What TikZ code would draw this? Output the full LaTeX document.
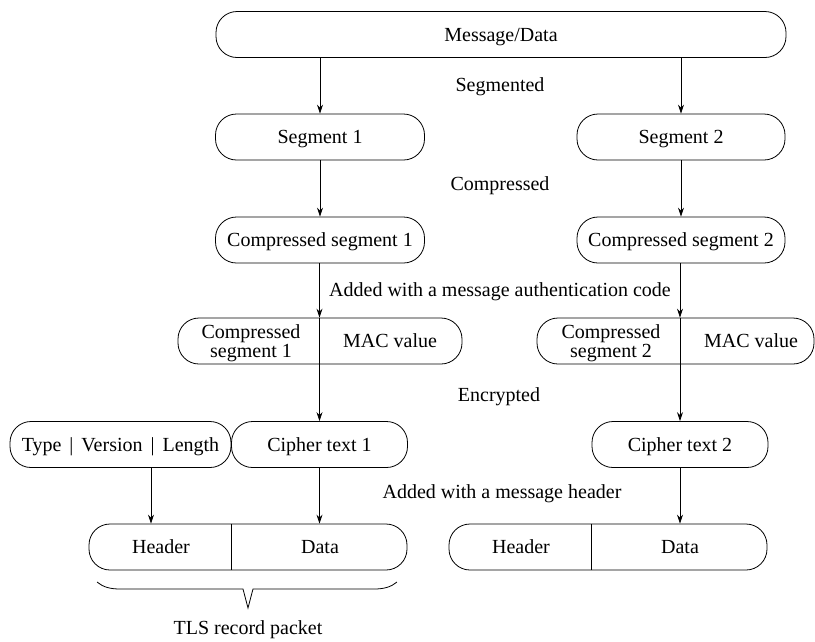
\documentclass[tikz,border=0pt]{standalone}
\usepackage{fontspec}
\setmainfont{Liberation Serif}
\usetikzlibrary{arrows.meta}
\begin{document}
\begin{tikzpicture}[x=1pt,y=-1pt,
  font=\fontsize{20}{19}\selectfont,
  line width=0.8pt,
  every node/.append style={text height=13pt, text depth=0pt},
  box/.style={draw, rounded corners=21pt, minimum height=46pt, inner sep=0pt},
  lbl/.style={inner sep=0pt},
  two/.style={inner sep=0pt, align=center, text height=32pt, text depth=0pt},
  arr/.style={-{Stealth[length=9pt,width=6pt]}}
]
\useasboundingbox (0,0) rectangle (815,641);
% top
\node[box, minimum width=570pt] (msg) at (501,34.5) {Message/Data};
\node[lbl] (lseg) at (500,85) {Segmented};
\node[box, minimum width=209pt] (s1) at (320,137) {Segment 1};
\node[box, minimum width=208pt] (s2) at (681,137) {Segment 2};
\node[lbl] (lcomp) at (500,184) {Compressed};
\node[box, minimum width=209pt] (c1) at (320,240) {Compressed segment 1};
\node[box, minimum width=208pt] (c2) at (681,240) {Compressed segment 2};
\node[lbl] (lmac) at (500,290) {Added with a message authentication code};
% MAC boxes
\node[box, minimum width=284pt] (m1) at (320,341) {};
\node[two] (m1a) at (251,341) {Compressed\\segment 1};
\node[lbl] (m1b) at (390,341) {MAC value};
\node[box, minimum width=277pt] (m2) at (675.5,341) {};
\node[two] (m2a) at (611,341) {Compressed\\segment 2};
\node[lbl] (m2b) at (751,341) {MAC value};
\node[lbl] (lenc) at (499,395) {Encrypted};
% cipher row
\node[box, minimum width=221pt] (t) at (120.5,444.5) {Type\hspace{0.4em}|\hspace{0.4em}Version\hspace{0.4em}|\hspace{0.4em}Length};
\node[box, minimum width=176pt] (x1) at (319.5,444.5) {Cipher text 1};
\node[box, minimum width=176pt] (x2) at (680,444.5) {Cipher text 2};
\node[lbl] (lhdr) at (502,492) {Added with a message header};
% record boxes
\node[box, minimum width=318pt] (h1) at (248,547) {};
\node[lbl] (h1a) at (161,547) {Header};
\node[lbl] (h1b) at (320,547) {Data};
\node[box, minimum width=318pt] (h2) at (608,547) {};
\node[lbl] (h2a) at (521,547) {Header};
\node[lbl] (h2b) at (680,547) {Data};
\node[lbl] (tls) at (248,628) {TLS record packet};
\coordinate (tarrow) at (151,0);
% connectors
\draw[arr] (msg.south -| s1.north) -- (s1.north);
\draw[arr] (msg.south -| s2.north) -- (s2.north);
\draw[arr] (s1.south) -- (c1.north);
\draw[arr] (s2.south) -- (c2.north);
\draw[arr] (c1.south -| x1.north) -- (m1.north -| x1.north);
\draw[arr] (c2.south -| x2.north) -- (m2.north -| x2.north);
\draw (m1.north -| x1.north) -- (m1.south -| x1.north);
\draw (m2.north -| x2.north) -- (m2.south -| x2.north);
\draw[arr] (m1.south -| x1.north) -- (x1.north);
\draw[arr] (m2.south -| x2.north) -- (x2.north);
\draw[arr] (t.south -| tarrow) -- (h1.north -| tarrow);
\draw[arr] (x1.south) -- (h1.north -| x1.south);
\draw[arr] (x2.south) -- (h2.north -| x2.south);
\draw (h1.north -| t.east) -- (h1.south -| t.east);
\draw (h2.north -| x2.west) -- (h2.south -| x2.west);
% brace
\draw (97,582) .. controls (103,587) and (110,589) .. (120,589) -- (243,589) -- (248,608) -- (253,589) -- (374,589) .. controls (384,589) and (391,587) .. (397,582);
\end{tikzpicture}
\end{document}
